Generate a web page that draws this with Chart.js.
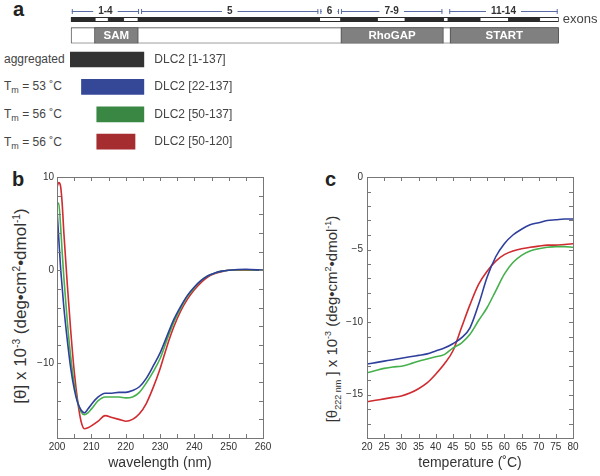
<!DOCTYPE html>
<html>
<head>
<meta charset="utf-8">
<script src="https://cdn.jsdelivr.net/npm/chart.js@4.4.0/dist/chart.umd.min.js"></script>
<style>
body { margin: 0; width: 600px; height: 476px; position: relative; background: #fff; overflow: hidden;
       font-family: "Liberation Sans", Arial, sans-serif; color: #333; }
canvas { position: absolute; }
.panel { position: absolute; font-weight: bold; font-size: 20px; line-height: 1; color: #222; }
.note { position: absolute; left: 4px; font-size: 12px; line-height: 14px; color: #444; white-space: nowrap; }
.note sub { font-size: 9px; vertical-align: -3px; }
.ytitle { position: absolute; white-space: nowrap; color: #333; transform: translate(-50%, -50%) rotate(-90deg); }
.ytitle sup, .ytitle sub { font-size: 60%; }
</style>
</head>
<body>
<div class="panel" style="left:13px;top:-1px">a</div>
<div class="panel" style="left:12px;top:169px">b</div>
<div class="panel" style="left:325px;top:169px">c</div>

<div class="note" style="top:52px">aggregated</div>
<div class="note" style="top:79px">T<sub>m</sub> = 53 ˚C</div>
<div class="note" style="top:107px">T<sub>m</sub> = 56 ˚C</div>
<div class="note" style="top:135px">T<sub>m</sub> = 56 ˚C</div>

<div class="ytitle" style="left:21px;top:306px;font-size:17px">[θ] x 10<sup>-3</sup> (deg•cm<sup>2</sup>•dmol<sup>-1</sup>)</div>
<div class="ytitle" style="left:333px;top:319px;font-size:15px">[θ<sub>222 nm</sub> ] x 10<sup>-3</sup> (deg•cm<sup>2</sup>•dmol<sup>-1</sup>)</div>

<canvas id="diagram" width="600" height="50" style="left:0;top:0"></canvas>
<canvas id="constructs" width="300" height="120" style="left:0;top:40px"></canvas>
<canvas id="cd" width="300" height="316" style="left:0;top:160px"></canvas>
<canvas id="melt" width="300" height="316" style="left:300px;top:160px"></canvas>

<script>
// panel a: DLC2 domain map (residue numbers)
const proteinLength = 1113;
const exonGroups = ["1-4", "5", "6", "7-9", "11-14"];
const exonGroupSpans = [[0, 158], [158, 567], [567, 614], [614, 850], [861, 1113]];
const exonDark = [[0, 55], [86, 120], [154, 567], [616, 699], [763, 850], [861, 933], [999, 1069]];
const exonLight = [[55, 86], [120, 154], [567, 616], [699, 763], [850, 861], [933, 999], [1069, 1113]];
const domainNames = ["SAM", "RhoGAP", "START"];
const domainSpans = [[54, 154], [616, 850], [865, 1113]];

// panel a: constructs
const constructs = ["DLC2 [1-137]", "DLC2 [22-137]", "DLC2 [50-137]", "DLC2 [50-120]"];
const constructRanges = [[1, 137], [22, 137], [50, 137], [50, 120]];

// panel b: CD spectra
const wavelengths = [200, 200.5, 201, 201.5, 202, 203, 204, 205, 206, 207, 208, 209, 210, 212, 214, 216, 218, 220, 222, 224,
                     226, 228, 230, 232, 234, 236, 238, 240, 242, 244, 246, 248, 250, 255, 260];
const cd22 = [6.5, 3.5, 0.5, -1.8, -4, -7.5, -10.5, -12.7, -14.2, -15.0, -15.3, -14.9, -14.4, -13.6, -13.2, -13.2, -13.1, -13.1, -12.9, -12.5,
              -11.6, -10.3, -8.9, -7.1, -5.3, -3.9, -2.7, -1.8, -1.1, -0.6, -0.3, -0.1, 0, 0.1, 0];
const cd50 = [7.0, 7.2, 5.0, 2.0, -0.8, -5.5, -9.3, -12.2, -14.1, -15.2, -15.5, -15.3, -14.9, -14.0, -13.6, -13.6, -13.6, -13.7, -13.6, -13.1,
              -12.1, -10.9, -9.5, -7.5, -5.6, -4.1, -2.8, -1.9, -1.1, -0.6, -0.3, -0.1, 0, 0.05, 0];
const cd50short = [8.9, 9.4, 9.1, 7.2, 4.0, -1.5, -6.5, -10.8, -14.0, -16.2, -17.0, -16.9, -16.7, -16.2, -15.6, -15.8, -16.0, -16.2, -16.0, -15.4,
                   -14.3, -12.6, -10.6, -8.2, -6.1, -4.4, -3.1, -2.1, -1.3, -0.7, -0.35, -0.15, 0, 0, 0];

// panel c: thermal melts at 222 nm
const temps = [20, 22.5, 25, 27.5, 30, 32.5, 35, 37.5, 40, 42.5, 45, 47.5, 50, 52.5, 55, 57.5, 60, 62.5, 65, 67.5, 70, 72.5, 75, 77.5, 80];
const melt22 = [-12.9, -12.8, -12.7, -12.6, -12.5, -12.4, -12.3, -12.2, -12.0, -11.8, -11.5, -11.1, -10.4, -8.8, -6.9, -5.5, -4.6, -4.0,
                -3.6, -3.3, -3.15, -3.0, -2.95, -2.9, -2.9];
const melt50 = [-13.5, -13.35, -13.2, -13.1, -13.05, -12.9, -12.7, -12.55, -12.4, -12.25, -11.8, -11.45, -10.85, -9.9, -9.0, -7.85, -6.7,
                -5.9, -5.4, -5.1, -4.95, -4.85, -4.8, -4.8, -4.85];
const melt50short = [-15.5, -15.4, -15.3, -15.2, -15.1, -14.9, -14.6, -14.2, -13.6, -12.9, -12.0, -10.4, -8.8, -7.4, -6.5, -5.8, -5.35,
                     -5.1, -4.95, -4.85, -4.77, -4.7, -4.7, -4.65, -4.6];

const FONT = '"Liberation Sans", Arial, sans-serif';
Chart.defaults.font.family = FONT;
Chart.defaults.color = '#333';

const BLUE = '#2f3f9c', GREEN = '#45b04c', RED = '#cf2b30';

// labels for the domain map
const diagramText = {
  id: 'diagramText',
  afterDatasetsDraw(chart) {
    const { ctx, scales: { x, y } } = chart;
    const lineY = y.getPixelForValue(0) - 8.5;
    ctx.save();
    ctx.font = 'bold 10px ' + FONT;
    ctx.textAlign = 'center';
    ctx.textBaseline = 'middle';
    exonGroupSpans.forEach((s, i) => {
      const x1 = x.getPixelForValue(s[0]) + 1, x2 = x.getPixelForValue(s[1]) - 1;
      ctx.strokeStyle = '#5a6ca6';
      ctx.lineWidth = 1;
      ctx.beginPath();
      ctx.moveTo(x1, lineY + 0.5); ctx.lineTo(x2, lineY + 0.5);
      ctx.moveTo(x1 + 0.5, lineY - 2); ctx.lineTo(x1 + 0.5, lineY + 3);
      ctx.moveTo(x2 - 0.5, lineY - 2); ctx.lineTo(x2 - 0.5, lineY + 3);
      ctx.stroke();
      const cx = (x1 + x2) / 2, w = ctx.measureText(exonGroups[i]).width;
      ctx.fillStyle = '#fff';
      ctx.fillRect(cx - w / 2 - 5, lineY - 6, w + 10, 12);
      ctx.fillStyle = '#333';
      ctx.fillText(exonGroups[i], cx, lineY);
    });
    ctx.font = '13px ' + FONT;
    ctx.textAlign = 'left';
    ctx.fillStyle = '#444';
    ctx.fillText('exons', x.getPixelForValue(proteinLength) + 4, y.getPixelForValue(0));
    ctx.font = 'bold 11.5px ' + FONT;
    ctx.textAlign = 'center';
    ctx.fillStyle = '#fff';
    chart.getDatasetMeta(0).data.forEach((bar, i) => {
      ctx.fillText(domainNames[i], (bar.x + bar.base) / 2, bar.y + 0.5);
    });
    ctx.restore();
  }
};

new Chart(document.getElementById('diagram'), {
  type: 'bar',
  data: {
    labels: ['exons', 'domains'],
    datasets: [
      { data: domainSpans.map(s => ({ x: s, y: 'domains' })), backgroundColor: '#808080', borderColor: '#4a4a4a',
        borderWidth: 1, borderSkipped: false, barThickness: 16 },
      { data: [{ x: [0, proteinLength], y: 'domains' }], backgroundColor: '#fff', borderColor: '#4a4a4a',
        borderWidth: 1.2, borderSkipped: false, barThickness: 16 },
      { data: exonLight.map(s => ({ x: s, y: 'exons' })), backgroundColor: '#fff', borderColor: '#2b2b2b',
        borderWidth: 1, borderSkipped: false, barThickness: 4.5 },
      { data: exonDark.map(s => ({ x: s, y: 'exons' })), backgroundColor: '#2b2b2b', borderWidth: 0, barThickness: 4.5 }
    ]
  },
  options: {
    indexAxis: 'y', responsive: false, animation: false,
    datasets: { bar: { grouped: false } },
    layout: { padding: { left: 70.8, right: 41.3, top: 11.5, bottom: 6.5 } },
    plugins: { legend: { display: false }, tooltip: { enabled: false } },
    scales: {
      x: { type: 'linear', min: 0, max: proteinLength, display: false },
      y: { type: 'category', display: false }
    }
  },
  plugins: [diagramText]
});

new Chart(document.getElementById('constructs'), {
  type: 'bar',
  data: {
    labels: constructs,
    datasets: [{ data: constructRanges, backgroundColor: ['#333333', '#344897', '#3a8744', '#a52d30'],
                 borderSkipped: false, barThickness: 15 }]
  },
  options: {
    indexAxis: 'y', responsive: false, animation: false,
    layout: { padding: { left: 70, top: 5.8, bottom: 4.6 } },
    plugins: { legend: { display: false }, tooltip: { enabled: false } },
    scales: {
      x: { type: 'linear', min: 1, max: 137, display: false },
      y: {
        position: 'right',
        grid: { display: false, drawTicks: false }, border: { display: false },
        ticks: { padding: 10, color: '#444', font: { size: 12 } },
        afterFit: s => { s.width = 155.7; s.paddingTop = 0; s.paddingBottom = 0; }
      }
    }
  }
});

// frame with inward tick marks on all four sides
const frameTicks = {
  id: 'frameTicks',
  afterDatasetsDraw(chart) {
    const { ctx, chartArea: a, scales: { x, y } } = chart;
    ctx.save();
    ctx.strokeStyle = '#777';
    ctx.lineWidth = 1;
    ctx.strokeRect(a.left + 0.5, a.top + 0.5, a.right - a.left, a.bottom - a.top);
    ctx.beginPath();
    x.ticks.forEach(t => {
      const px = Math.round(x.getPixelForValue(t.value)) + 0.5;
      ctx.moveTo(px, a.bottom); ctx.lineTo(px, a.bottom - 4);
      ctx.moveTo(px, a.top); ctx.lineTo(px, a.top + 4);
    });
    y.ticks.forEach(t => {
      const py = Math.round(y.getPixelForValue(t.value)) + 0.5;
      ctx.moveTo(a.left, py); ctx.lineTo(a.left + 4, py);
      ctx.moveTo(a.right, py); ctx.lineTo(a.right - 4, py);
    });
    ctx.stroke();
    ctx.restore();
  }
};

const every = step => v => (v % step === 0 ? String(v).replace('-', '\u2212') : '');
const pts = (xs, ys) => xs.map((v, i) => ({ x: v, y: ys[i] }));

function spectrumChart(id, xs, series, xOpts, yOpts, yWidth, rightPad, xTitle) {
  return new Chart(document.getElementById(id), {
    type: 'line',
    data: {
      datasets: series.map(s => ({ data: pts(xs, s.values), borderColor: s.color, borderWidth: 1.6,
                                   pointRadius: 0, cubicInterpolationMode: 'monotone' }))
    },
    options: {
      responsive: false, animation: false,
      layout: { padding: { top: 17, right: rightPad, left: 0, bottom: 0 } },
      plugins: { legend: { display: false }, tooltip: { enabled: false } },
      scales: {
        x: Object.assign({
          type: 'linear', grid: { display: false, drawTicks: false }, border: { display: false },
          title: { display: true, text: xTitle, font: { size: 14 }, color: '#333', padding: { top: 0, bottom: 4.6 } },
          afterFit: s => { s.height = 38; }
        }, xOpts),
        y: Object.assign({
          type: 'linear', grid: { display: false, drawTicks: false }, border: { display: false },
          afterFit: s => { s.width = yWidth; }
        }, yOpts)
      }
    },
    plugins: [frameTicks]
  });
}

spectrumChart('cd', wavelengths,
  [{ values: cd22, color: BLUE }, { values: cd50, color: GREEN }, { values: cd50short, color: RED }],
  { min: 200, max: 260, ticks: { stepSize: 5, autoSkip: false, maxRotation: 0, padding: 3, font: { size: 10 }, callback: every(10) } },
  { min: -18, max: 10, ticks: { stepSize: 2, autoSkip: false, padding: 3, font: { size: 10 }, callback: every(10) } },
  57, 37, 'wavelength (nm)');

spectrumChart('melt', temps,
  [{ values: melt22, color: BLUE }, { values: melt50, color: GREEN }, { values: melt50short, color: RED }],
  { min: 20, max: 80, ticks: { stepSize: 5, autoSkip: false, maxRotation: 0, padding: 3, font: { size: 10 }, callback: every(5) } },
  { min: -18, max: 0, ticks: { stepSize: 1, autoSkip: false, padding: 4, font: { size: 10 }, callback: every(5) } },
  67, 27, 'temperature (˚C)');
</script>
</body>
</html>
